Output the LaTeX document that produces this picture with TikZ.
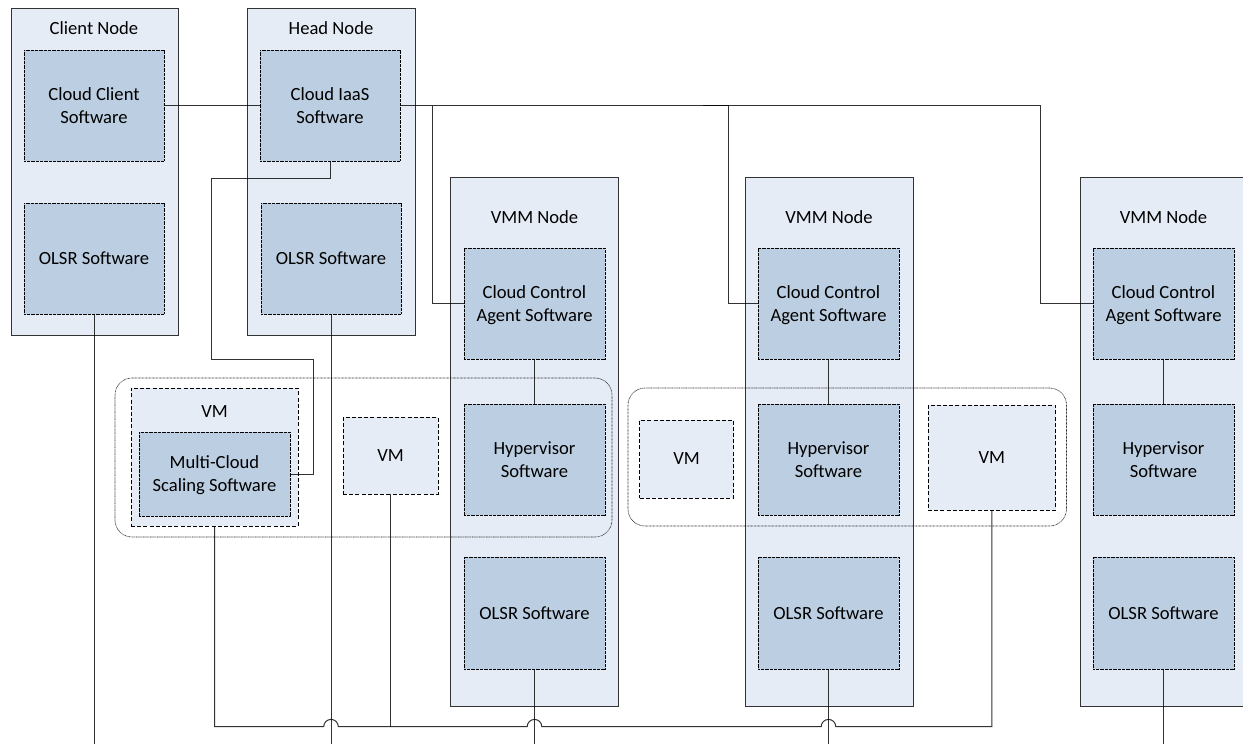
\documentclass[tikz,border=0pt]{standalone}
\usepackage{fontspec}
\setmainfont{Carlito}
\usetikzlibrary{calc}
\definecolor{outerfill}{HTML}{E6ECF6}
\definecolor{innerfill}{HTML}{BCCEE1}
\definecolor{linegray}{HTML}{333333}
\tikzset{
  base/.style={rectangle,inner sep=0pt,outer sep=0pt,align=center,text=black,
    font=\fontsize{18.6}{23}\selectfont},
  hostbox/.style={base,draw=linegray,line width=1pt,fill=outerfill},
  softbox/.style={base,draw=black,line width=0.6pt,dash pattern=on 0.8pt off 0.5pt,fill=innerfill},
  vmbox/.style={base,draw=black,line width=0.8pt,dash pattern=on 4pt off 2.2pt,fill=outerfill},
  groupbox/.style={rectangle,draw=black!85,line width=0.6pt,dash pattern=on 0.8pt off 0.6pt,rounded corners=17pt,inner sep=0pt,outer sep=0pt},
  link/.style={draw=black,draw opacity=0.8,line width=1pt},
  caption/.style={font=\fontsize{18.6}{23}\selectfont,inner sep=0pt}
}
% last line of a label, set without its descender depth so that all labels centre alike
\newcommand{\nodepth}[1]{\raisebox{0pt}[\height][0pt]{#1}}
% name, style, x1, y1, x2, y2, text
\newcommand{\pxbox}[7]{%
  \pgfmathsetmacro{\bw}{#5-#3}\pgfmathsetmacro{\bh}{#6-#4}%
  \pgfmathsetmacro{\cx}{(#3+#5)/2}\pgfmathsetmacro{\cy}{(#4+#6)/2}%
  \node[#2,minimum width=\bw pt,minimum height=\bh pt] (#1) at (\cx,\cy) {#7};}
\begin{document}
\begin{tikzpicture}[x=1pt,y=-1pt]
\useasboundingbox (0,0) rectangle (1243,744);
% hosts
\pxbox{client}{hostbox}{11}{8}{178}{335}{}
\pxbox{head}{hostbox}{247}{8}{415}{335}{}
\pxbox{vmma}{hostbox}{450}{177}{618}{706}{}
\pxbox{vmmb}{hostbox}{745}{177}{913}{706}{}
\pxbox{vmmc}{hostbox}{1080}{177}{1248}{706}{}
\node[caption] (tclient) at (94,28) {Client Node};
\node[caption] (thead) at (331,28) {Head Node};
\node[caption] (tvmma) at (534.5,217) {VMM Node};
\node[caption] (tvmmb) at (829,217) {VMM Node};
\node[caption] (tvmmc) at (1163.5,217) {VMM Node};
% software
\pxbox{ccs}{softbox}{24}{50}{164}{161}{Cloud Client\\Software}
\pxbox{olsrc}{softbox}{24}{203}{164}{314}{OLSR Software}
\pxbox{iaas}{softbox}{260}{50}{400}{161}{Cloud IaaS\\Software}
\pxbox{olsrh}{softbox}{261}{203}{401}{314}{OLSR Software}
\pxbox{agenta}{softbox}{464}{248}{605}{359}{Cloud Control\\\nodepth{Agent Software}}
\pxbox{hypera}{softbox}{464}{404}{605}{515}{Hypervisor\\Software}
\pxbox{olsra}{softbox}{464}{557}{605}{669}{OLSR Software}
\pxbox{agentb}{softbox}{758}{248}{899}{359}{Cloud Control\\\nodepth{Agent Software}}
\pxbox{hyperb}{softbox}{758}{404}{899}{515}{Hypervisor\\Software}
\pxbox{olsrb}{softbox}{758}{557}{899}{669}{OLSR Software}
\pxbox{agentc}{softbox}{1093}{248}{1234}{359}{Cloud Control\\\nodepth{Agent Software}}
\pxbox{hyperc}{softbox}{1093}{404}{1234}{515}{Hypervisor\\Software}
\pxbox{olsrx}{softbox}{1093}{557}{1234}{669}{OLSR Software}
% VMs
\pxbox{vma}{vmbox}{131}{388}{298}{526}{}
\node[caption] (tvma) at (214.5,412) {VM};
\pxbox{msc}{softbox}{139}{432}{290}{516}{Multi-Cloud\\\nodepth{Scaling Software}}
\pxbox{vmb}{vmbox}{343}{417}{438}{494}{VM}
\pxbox{vmc}{vmbox}{639.5}{420}{733.5}{498}{VM}
\pxbox{vmd}{vmbox}{928}{405}{1055.5}{510}{VM}
% groups
\pxbox{groupa}{groupbox}{115}{378}{612}{537}{}
\pxbox{groupb}{groupbox}{628}{388}{1066.5}{526}{}
% free ends
\coordinate (busy) at (0,726.7);
\coordinate (bottom) at (0,744);
\coordinate (bx) at (432,0);
\coordinate (cx) at (728,0);
\coordinate (cs) at (703,0);
\coordinate (dx) at (1040,0);
\coordinate (ry) at (0,178);
\coordinate (rx) at (211,0);
\coordinate (sy) at (0,359);
\coordinate (sx) at (313.5,0);
% control links
\draw[link] (ccs.east) -- (iaas.west);
\draw[link] (iaas.east) -- (dx |- iaas.east) |- (agentc.west);
\draw[link] (bx |- iaas.east) |- (agenta.west);
\draw[link] (cs |- iaas.east) -- (cx |- iaas.east) |- (agentb.west);
\draw[link] (iaas.south) |- (rx |- ry) |- (sx |- sy) |- (msc.east);
\draw[link] (agenta.south) -- (hypera.north);
\draw[link] (agentb.south) -- (hyperb.north);
\draw[link] (agentc.south) -- (hyperc.north);
% network drops
\draw[link] (olsrc.south) -- (olsrc.south |- bottom);
\draw[link] (olsrh.south) -- (olsrh.south |- bottom);
\draw[link] (olsra.south) -- (olsra.south |- bottom);
\draw[link] (olsrb.south) -- (olsrb.south |- bottom);
\draw[link] (olsrx.south) -- (olsrx.south |- bottom);
\draw[link] (vmb.south) -- (vmb.south |- busy);
% bus
\draw[link] (vma.south) |- ($(olsrh.south |- busy)+(-7.3,0)$)
  arc[start angle=180,end angle=0,radius=7.3pt]
  -- ($(olsra.south |- busy)+(-7.3,0)$)
  arc[start angle=180,end angle=0,radius=7.3pt]
  -- ($(olsrb.south |- busy)+(-7.3,0)$)
  arc[start angle=180,end angle=0,radius=7.3pt]
  -| (vmd.south);
\end{tikzpicture}
\end{document}
